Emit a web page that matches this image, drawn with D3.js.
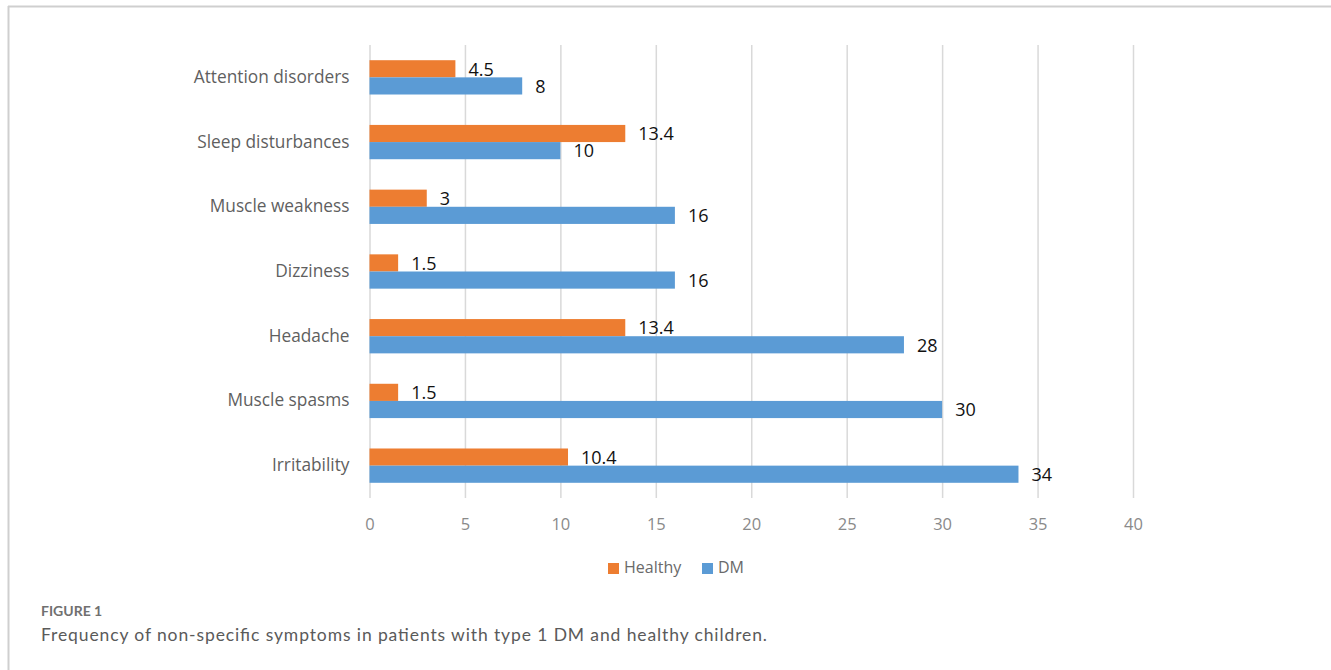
<!DOCTYPE html>
<html>
<head>
<meta charset="utf-8">
<script src="https://cdn.jsdelivr.net/npm/d3@7/dist/d3.min.js"></script>
<style>
  html, body { margin: 0; padding: 0; background: #fff; }
  svg { display: block; }
</style>
</head>
<body>
<svg id="chart" width="1331" height="670"></svg>
<script>
const categories = ["Attention disorders", "Sleep disturbances", "Muscle weakness", "Dizziness", "Headache", "Muscle spasms", "Irritability"];
const seriesNames = ["Healthy", "DM"];
const healthyValues = [4.5, 13.4, 3, 1.5, 13.4, 1.5, 10.4];
const dmValues = [8, 10, 16, 16, 28, 30, 34];
const xTicks = [0, 5, 10, 15, 20, 25, 30, 35, 40];
const seriesColors = ["#ED7D31", "#5B9BD5"];
const figureLabel = "FIGURE 1";
const captionText = "Frequency of non-specific symptoms in patients with type 1 DM and healthy children.";

const svg = d3.select("#chart");
const W = 1331, H = 670;

// frame lines
svg.append("line").attr("x1", 8).attr("x2", W).attr("y1", 6.5).attr("y2", 6.5)
  .attr("stroke", "#cfcfcf").attr("stroke-width", 2);
svg.append("line").attr("x1", 8.5).attr("x2", 8.5).attr("y1", 6).attr("y2", H)
  .attr("stroke", "#cfcfcf").attr("stroke-width", 2);

const x = d3.scaleLinear().domain([0, 40]).range([369.5, 1133]);
const y = d3.scaleBand().domain(categories).range([45, 498]).paddingInner(0.47).paddingOuter(0.235);
const y1 = d3.scaleBand().domain(seriesNames).range([0, y.bandwidth()]);
const color = d3.scaleOrdinal().domain(seriesNames).range(seriesColors);

const rows = categories.map((c, i) => ({ cat: c, values: [
  { s: "Healthy", v: healthyValues[i] },
  { s: "DM", v: dmValues[i] }
]}));

// gridlines
const grid = svg.append("g").attr("transform", "translate(0,498)")
  .call(d3.axisBottom(x).tickValues(xTicks).tickSize(-(498 - 45)).tickFormat(""));
grid.select(".domain").remove();
grid.selectAll(".tick line").attr("stroke", "#d9d9d9").attr("stroke-width", 1.5);

// x tick labels
const xAxis = svg.append("g").attr("transform", "translate(0,498)")
  .call(d3.axisBottom(x).tickValues(xTicks).tickSize(0).tickPadding(20));
xAxis.select(".domain").remove();
xAxis.selectAll("text").attr("font-family", "'Open Sans', sans-serif").attr("font-size", 16.5)
  .attr("fill", "#8a8a8a");

// category labels
const yAxis = svg.append("g").attr("transform", "translate(369.5,0)")
  .call(d3.axisLeft(y).tickSize(0).tickPadding(20));
yAxis.select(".domain").remove();
yAxis.selectAll("text").attr("font-family", "'Open Sans', sans-serif").attr("font-size", 17.3)
  .attr("fill", "#5f5f5f");

const groups = svg.append("g").selectAll("g").data(rows).join("g")
  .attr("transform", d => `translate(0,${y(d.cat)})`);

// Healthy bars
groups.append("rect")
  .attr("x", x(0)).attr("y", y1("Healthy"))
  .attr("width", d => x(d.values[0].v) - x(0)).attr("height", y1.bandwidth())
  .attr("fill", color("Healthy"));

// Healthy labels (drawn under the DM bars)
groups.append("text")
  .attr("x", d => x(d.values[0].v) + 13)
  .attr("y", y1("Healthy") + y1.bandwidth() / 2 + 2)
  .attr("dominant-baseline", "middle")
  .attr("font-family", "'Open Sans', sans-serif").attr("font-size", 18).attr("fill", "#111")
  .text(d => d.values[0].v);

// DM bars
groups.append("rect")
  .attr("x", x(0)).attr("y", y1("DM"))
  .attr("width", d => x(d.values[1].v) - x(0)).attr("height", y1.bandwidth())
  .attr("fill", color("DM"));

groups.append("text")
  .attr("x", d => x(d.values[1].v) + 13)
  .attr("y", y1("DM") + y1.bandwidth() / 2 + 2)
  .attr("dominant-baseline", "middle")
  .attr("font-family", "'Open Sans', sans-serif").attr("font-size", 18).attr("fill", "#111")
  .text(d => d.values[1].v);

// legend
const legendPos = [608, 702];
const legend = svg.append("g").selectAll("g").data(seriesNames).join("g")
  .attr("transform", (d, i) => `translate(${legendPos[i]},563)`);
legend.append("rect").attr("width", 11).attr("height", 11).attr("fill", d => color(d));
legend.append("text").attr("x", 16).attr("y", 6).attr("dominant-baseline", "middle")
  .attr("font-family", "'Open Sans', sans-serif").attr("font-size", 16).attr("fill", "#6a6a6a")
  .text(d => d);

// caption
svg.append("text").attr("x", 41).attr("y", 612).attr("dominant-baseline", "middle")
  .attr("font-family", "Lato, sans-serif").attr("font-weight", "bold").attr("font-size", 14)
  .attr("fill", "#707070").text(figureLabel);
svg.append("text").attr("x", 41).attr("y", 637).attr("dominant-baseline", "middle")
  .attr("font-family", "Lato, sans-serif").attr("font-size", 17.5)
  .attr("fill", "#5a5a5a").attr("textLength", 726).attr("lengthAdjust", "spacing")
  .text(captionText);
</script>
</body>
</html>
